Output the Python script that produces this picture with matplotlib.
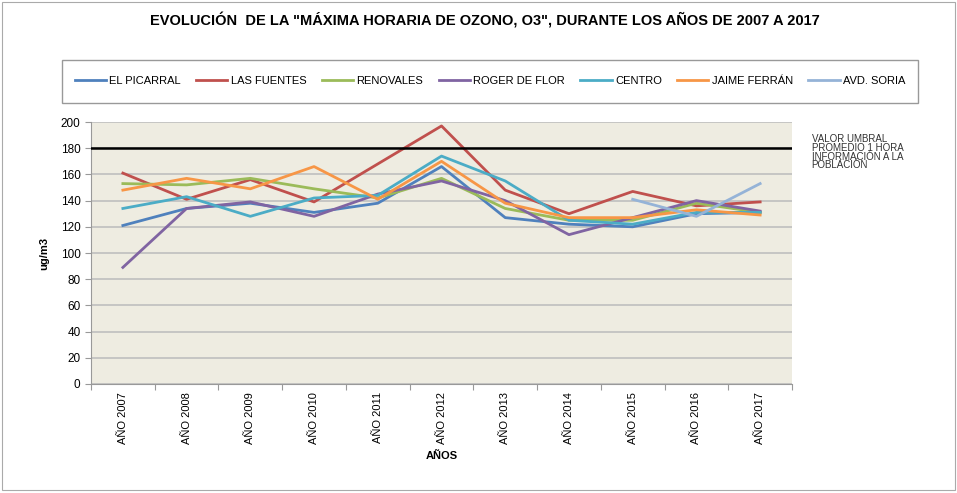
import numpy as np
import matplotlib
matplotlib.use('Agg')
import matplotlib.pyplot as plt
from matplotlib.patches import Rectangle

plt.rcParams['font.family'] = ['Liberation Sans', 'DejaVu Sans']

# datos
anios = ['AÑO 2007', 'AÑO 2008', 'AÑO 2009', 'AÑO 2010', 'AÑO 2011', 'AÑO 2012',
         'AÑO 2013', 'AÑO 2014', 'AÑO 2015', 'AÑO 2016', 'AÑO 2017']
el_picarral = [121, 134, 138, 131, 138, 166, 127, 122, 120, 130, 131]
las_fuentes = [161, 141, 156, 139, 168, 197, 148, 130, 147, 136, 139]
renovales = [153, 152, 157, 149, 142, 157, 134, 125, 125, 138, 131]
roger_de_flor = [89, 134, 139, 128, 145, 155, 140, 114, 127, 140, 132]
centro = [134, 143, 128, 142, 144, 174, 155, 125, 122, 131, 131]
jaime_ferran = [148, 157, 149, 166, 141, 170, 138, 127, 127, 133, 129]
avd_soria = [np.nan] * 8 + [141, 128, 153]
umbral = 180

series = [
    ('EL PICARRAL', el_picarral, '#4F81BD'),
    ('LAS FUENTES', las_fuentes, '#C0504D'),
    ('RENOVALES', renovales, '#9BBB59'),
    ('ROGER DE FLOR', roger_de_flor, '#8064A2'),
    ('CENTRO', centro, '#4BACC6'),
    ('JAIME FERRÁN', jaime_ferran, '#F79646'),
    ('AVD. SORIA', avd_soria, '#95B3D7'),
]

fig = plt.figure(figsize=(9.57, 4.93), dpi=100)
ax = fig.add_axes([0.0951, 0.2211, 0.7325, 0.5314])
ax.set_facecolor('#EEECE1')

x = np.arange(len(anios))
handles = []
for nombre, valores, color in series:
    h, = ax.plot(x, valores, color=color, lw=2, label=nombre, zorder=3)
    handles.append(h)

# línea del umbral
ax.axhline(umbral, color='black', lw=1.8, zorder=4)

ax.set_xlim(-0.5, len(anios) - 0.5)
ax.set_ylim(0, 200)
ax.set_yticks(np.arange(0, 201, 20))
ax.yaxis.grid(True, color='#BFBFBF', lw=1.2)
ax.set_axisbelow(True)

# marcas entre categorías, etiquetas en el centro
ax.set_xticks(np.arange(-0.5, len(anios), 1))
ax.set_xticklabels([])
ax.set_xticks(x, minor=True)
ax.set_xticklabels(anios, minor=True, rotation=90, fontsize=8)
ax.tick_params(axis='x', which='major', length=4, color='#999999')
ax.tick_params(axis='x', which='minor', length=0, pad=6)
ax.tick_params(axis='y', length=4, color='#999999', labelsize=8.5)

for s in ['top', 'right']:
    ax.spines[s].set_visible(False)
for s in ['left', 'bottom']:
    ax.spines[s].set_color('#999999')

ax.set_ylabel('ug/m3', fontsize=8, fontweight='bold', labelpad=8)
ax.set_xlabel('AÑOS', fontsize=8, fontweight='bold')
ax.xaxis.set_label_coords(0.5, -0.255)

fig.text(0.507, 0.958,
         'EVOLUCIÓN  DE LA "MÁXIMA HORARIA DE OZONO, O3", DURANTE LOS AÑOS DE 2007 A 2017',
         ha='center', va='center', fontsize=10.5, fontweight='bold')

fig.text(0.848, 0.728, 'VALOR UMBRAL\nPROMEDIO 1 HORA\nINFORMACIÓN A LA\nPOBLACIÓN',
         ha='left', va='top', fontsize=7, linespacing=0.85, color='#333333')

# caja de la leyenda
fig.patches.append(Rectangle((0.0648, 0.791), 0.8945, 0.0872, transform=fig.transFigure,
                             fill=False, edgecolor='#999999', lw=1))
fig.legend(handles=handles, loc='center', bbox_to_anchor=(0.512, 0.835), ncol=7,
           frameon=False, fontsize=8, handlelength=2.8, columnspacing=1.4,
           handletextpad=0.3)

# marco exterior
fig.patches.append(Rectangle((0.002, 0.006), 0.996, 0.99, transform=fig.transFigure,
                             fill=False, edgecolor='#AAAAAA', lw=0.8))

fig.savefig('out.png', dpi=100)
